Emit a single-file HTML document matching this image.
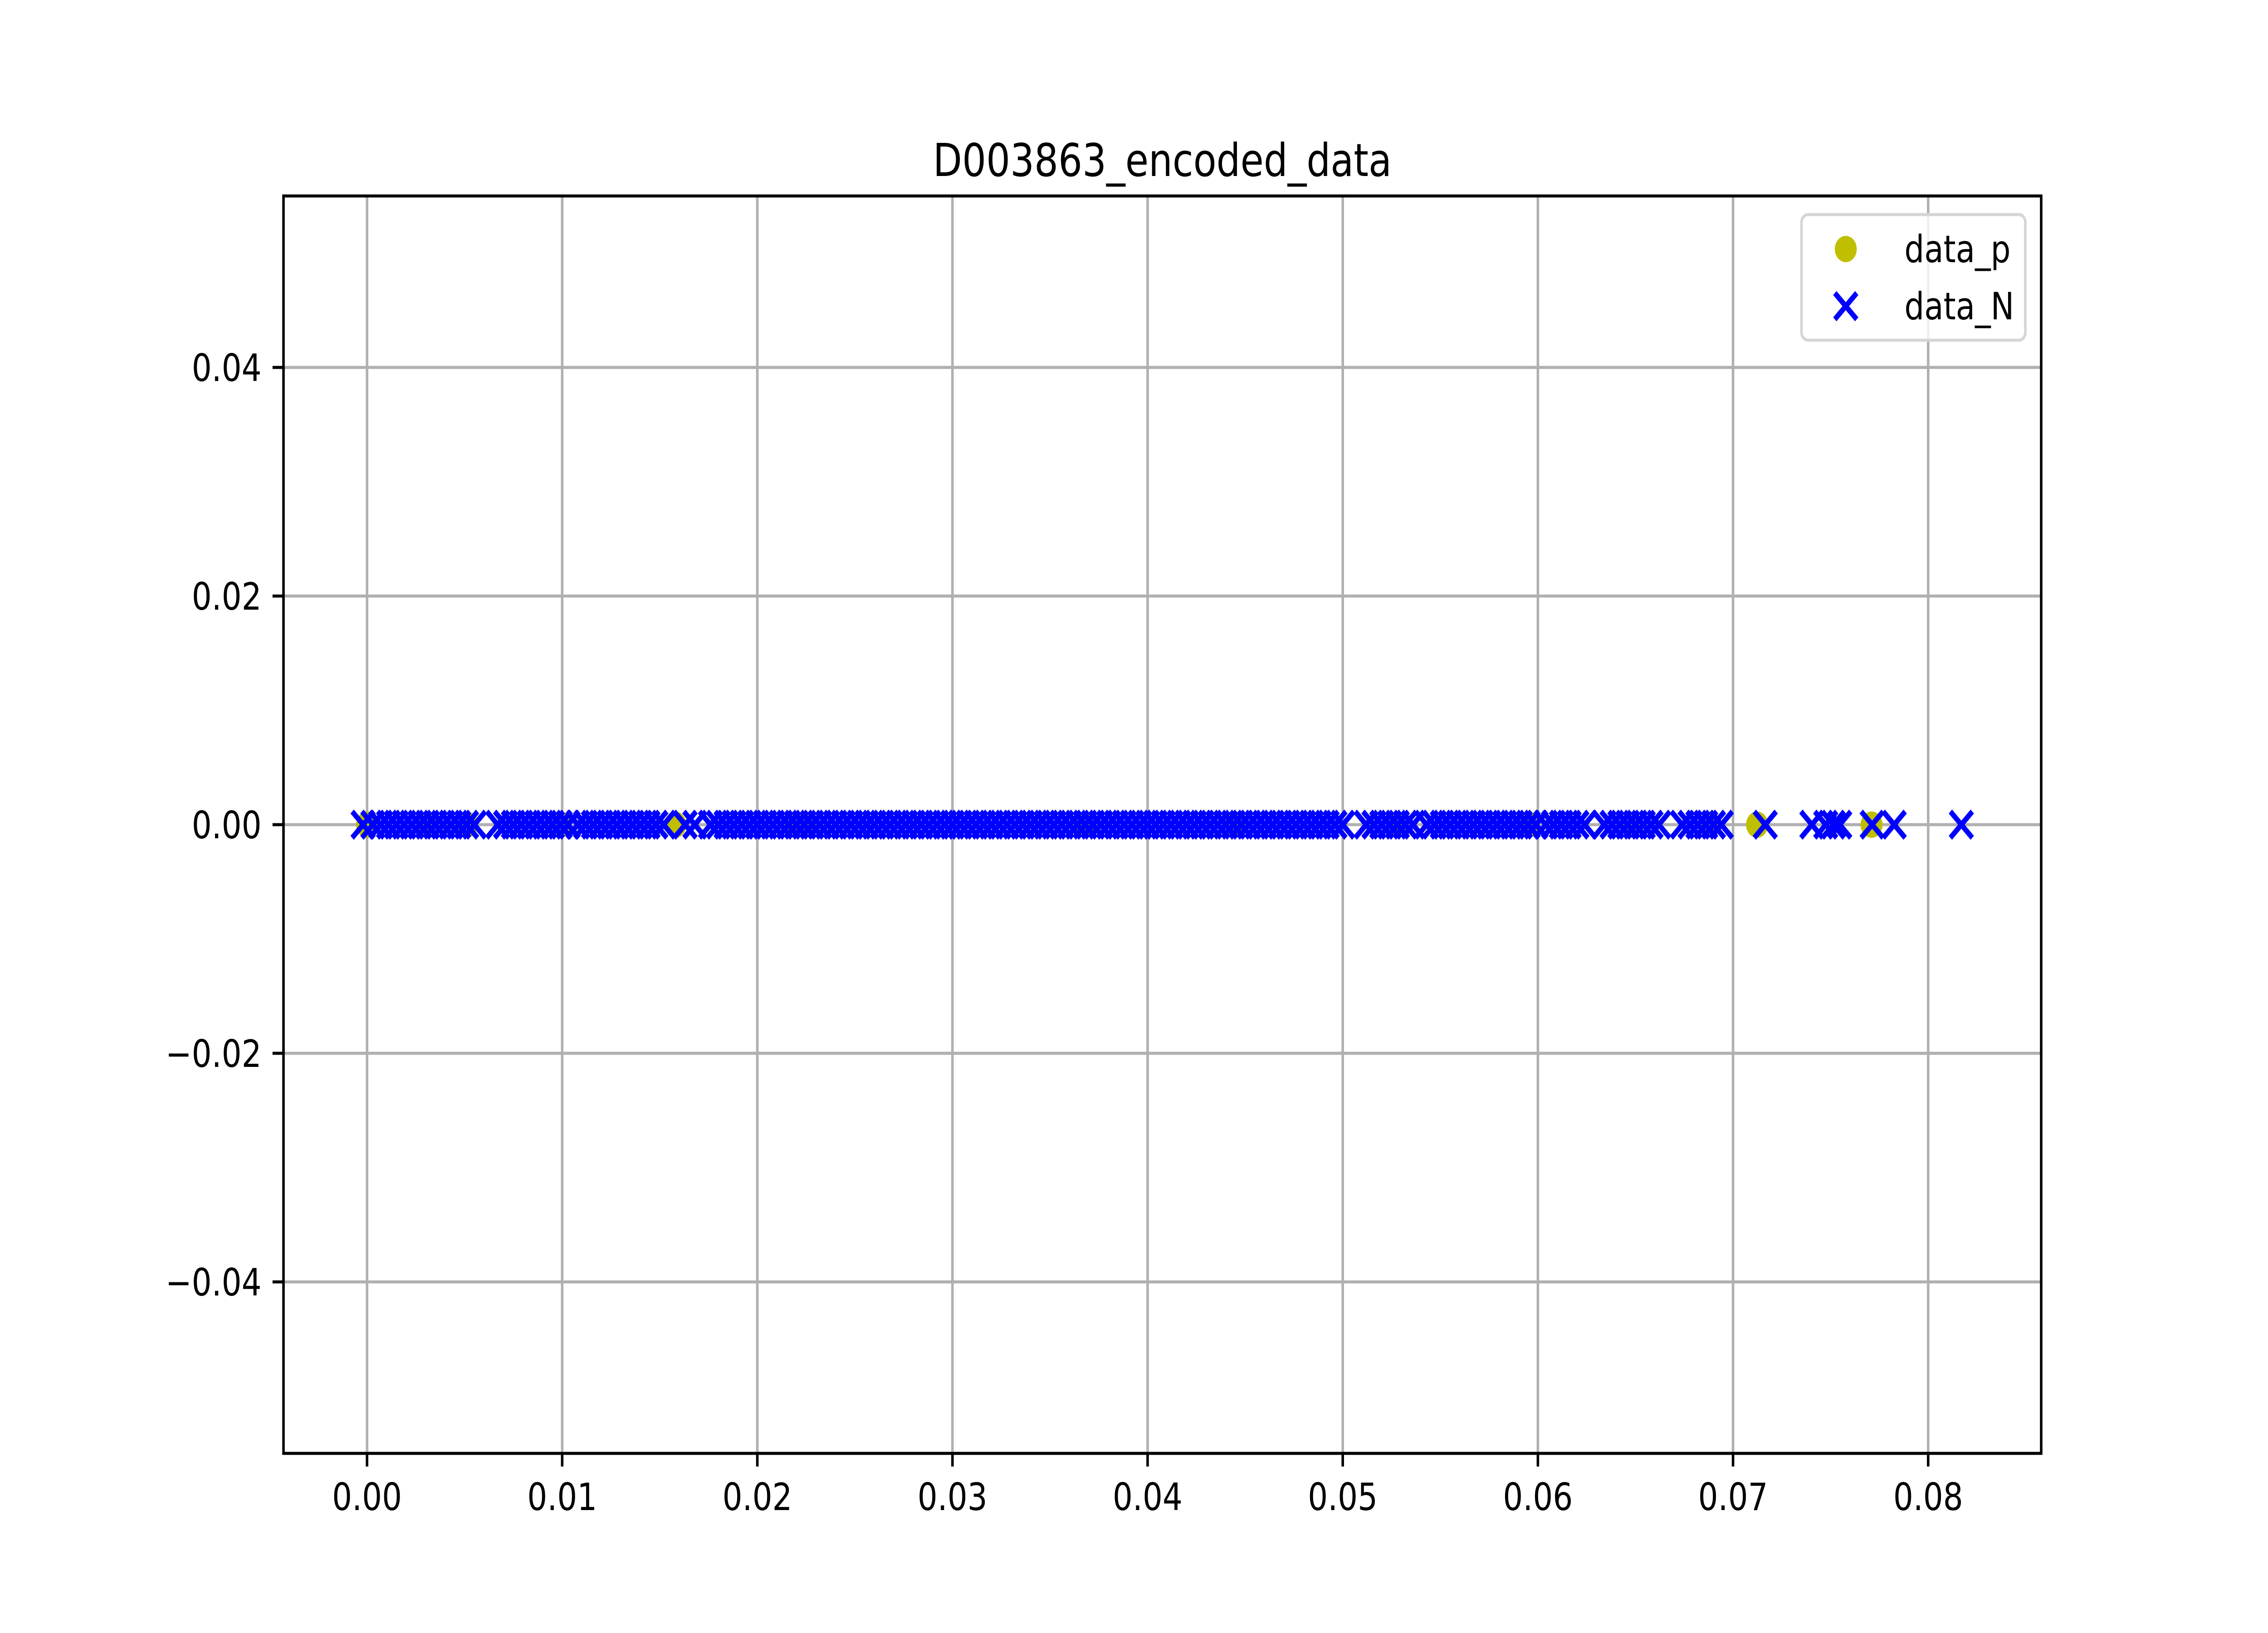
<!DOCTYPE html>
<html><head><meta charset="utf-8">
<style>
html,body{margin:0;padding:0;background:#fff;width:100%;height:100%;overflow:hidden;}
svg{display:block;position:absolute;left:0;top:0;width:100vw;height:100vh;font-family:"DejaVu Sans","Liberation Sans",sans-serif;}
</style></head>
<body>
<svg id="chart" viewBox="0 0 6000 3600" preserveAspectRatio="none" xmlns="http://www.w3.org/2000/svg">
<rect x="0" y="0" width="6000" height="3600" fill="#fff"/>
<text x="3075" y="388" font-size="100" text-anchor="middle">D003863_encoded_data</text>
<g id="grid"></g>
<g id="marks"></g>
<rect x="750" y="432" width="4650" height="2772" fill="none" stroke="#000" stroke-width="6.7"/>
<g id="ticks"></g>
<g>
<rect x="4766" y="473" width="592" height="277" rx="17" fill="#fff" fill-opacity="0.8" stroke="#d5d5d5" stroke-width="6.7"/>
<g>
<circle cx="4883" cy="549" r="29" fill="#bfbf00"/>
<text x="5038" y="578" font-size="83">data_p</text>
</g>
<g>
<path d="M4854 646 L4912 704 M4912 646 L4854 704" stroke="#0000ff" stroke-width="12.5"/>
<text x="5038" y="704" font-size="83">data_N</text>
</g>
</g>
</svg>
<script>
const xTicks = [0, 0.01, 0.02, 0.03, 0.04, 0.05, 0.06, 0.07, 0.08];
const xTickLabels = ["0.00","0.01","0.02","0.03","0.04","0.05","0.06","0.07","0.08"];
const yTicks = [-0.04, -0.02, 0, 0.02, 0.04];
const yTickLabels = ["\u22120.04","\u22120.02","0.00","0.02","0.04"];
const pX = [0.0000,0.0031,0.0051,0.0099,0.0158,0.0218,0.0225,0.0368,0.0445,0.0528,0.0595,0.0648,0.0688,0.07123,0.0771];
const nX = [-0.0002,0.0003,0.0007,0.0011,0.0015,0.0019,0.0023,0.0027,0.0031,0.0035,0.0039,0.0043,0.0047,0.0051,0.0055,
0.0067,0.0071,0.0075,0.0079,0.0083,0.0087,0.0091,0.0095,0.0099,0.0103,0.0108,0.0112,0.0116,0.0120,0.0124,0.0128,0.0132,0.0136,0.0140,0.0144,0.0148,0.0152,
0.0163,0.0168,0.0176,0.0180,0.0184,0.0188,0.0192,0.0196,0.0200,0.0204,0.0208,0.0212,0.0216,0.0220,0.0224,0.0228,0.0232,0.0236,0.0240,0.0244,0.0248,0.0252,0.0256,0.0260,0.0264,0.0268,0.0272,0.0276,0.0280,0.0284,0.0288,0.0292,0.0296,0.0300,0.0304,0.0308,0.0312,0.0316,0.0320,0.0324,0.0328,0.0332,0.0336,0.0340,0.0344,0.0348,0.0352,0.0356,0.0360,0.0364,0.0368,0.0372,0.0376,0.0380,0.0384,0.0388,0.0392,0.0396,0.0400,0.0404,0.0408,0.0412,0.0416,0.0420,0.0424,0.0428,0.0432,0.0436,0.0440,0.0444,0.0448,0.0452,0.0456,0.0460,0.0464,0.0468,0.0472,0.0476,0.0480,0.0484,0.0488,0.0492,0.0496,0.0500,
0.0512,0.0516,0.0520,0.0524,0.0528,0.0532,0.0536,0.0543,0.0547,0.0551,0.0555,0.0559,0.0563,0.0567,0.0571,0.0575,0.0579,0.0583,0.0587,0.0591,0.0595,0.0599,0.0604,0.0608,0.0612,0.0616,0.0620,0.0624,
0.0634,0.0638,0.0642,0.0646,0.0650,0.0654,0.0658,0.0662,0.0674,0.0678,0.0682,0.0686,0.0690,0.0694,
0.07165,0.07404,0.07475,0.07514,0.07547,0.07713,0.07826,0.0817];
const pY = pX.map(() => 0);
const nY = nX.map(() => 0);

const NS = "http://www.w3.org/2000/svg";
const L = 750, R = 5400, T = 432, B = 3204;
const XMIN = -0.004281, XMAX = 0.085792, YMIN = -0.055, YMAX = 0.055;
function sx(v){ return L + (v - XMIN) / (XMAX - XMIN) * (R - L); }
function sy(v){ return B - (v - YMIN) / (YMAX - YMIN) * (B - T); }
function mk(tag, attrs, parent){
  const e = document.createElementNS(NS, tag);
  for (const k in attrs) e.setAttribute(k, attrs[k]);
  parent.appendChild(e);
  return e;
}
const grid = document.getElementById('grid');
const ticks = document.getElementById('ticks');
const marks = document.getElementById('marks');

xTicks.forEach((v, i) => {
  const x = sx(v);
  const g = mk('line', {x1:x, x2:x, y1:T, y2:B, stroke:'#b0b0b0', 'stroke-width':6.7}, grid);
  
  
  const t = mk('line', {x1:x, x2:x, y1:B, y2:B+29, stroke:'#000', 'stroke-width':6.7}, ticks);
  
  
  const lb = mk('text', {x:x, y:B+125, 'font-size':83, 'text-anchor':'middle'}, ticks);
  lb.textContent = xTickLabels[i];
  
  
});
yTicks.forEach((v, i) => {
  const y = sy(v);
  const g = mk('line', {x1:L, x2:R, y1:y, y2:y, stroke:'#b0b0b0', 'stroke-width':6.7}, grid);
  
  
  const t = mk('line', {x1:L-29, x2:L, y1:y, y2:y, stroke:'#000', 'stroke-width':6.7}, ticks);
  
  
  const lb = mk('text', {x:L-58, y:y+30, 'font-size':83, 'text-anchor':'end'}, ticks);
  lb.textContent = yTickLabels[i];
  
  
});
pX.forEach((v, i) => {
  const c = mk('circle', {cx:sx(v), cy:sy(pY[i]), r:29, fill:'#bfbf00'}, marks);
  
  
});
nX.forEach((v, i) => {
  const x = sx(v), y = sy(nY[i]);
  const p = mk('path', {d:`M${x-29} ${y-29} L${x+29} ${y+29} M${x+29} ${y-29} L${x-29} ${y+29}`, stroke:'#0000ff', 'stroke-width':12.5}, marks);
  
  
});
</script>
</body></html>
